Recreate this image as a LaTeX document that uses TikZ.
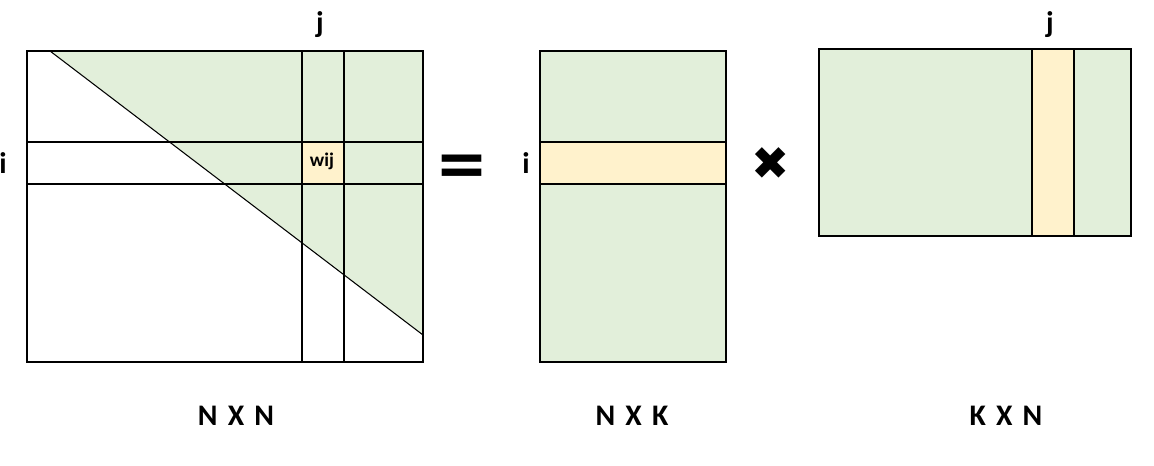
\documentclass[tikz,border=0pt]{standalone}
\usepackage{fontspec}
\setmainfont{Carlito}
\newfontfamily\symfont{DejaVu Sans}
\usetikzlibrary{positioning}
\definecolor{cellgreen}{HTML}{E2EFDA}
\definecolor{cellyellow}{HTML}{FFF2CC}
\newcommand{\dimgap}{\hspace{0.34em}}

\begin{document}
\begin{tikzpicture}[
  x=0.02cm, y=-0.02cm,
  every node/.style={inner sep=0pt, font=\bfseries\fontsize{17}{20}\selectfont},
  idx/.style={font=\bfseries\fontsize{17}{20}\selectfont},
  small_label/.style={font=\bfseries\fontsize{11}{13}\selectfont},
  op/.style={font=\symfont\bfseries\fontsize{36}{40}\selectfont},
  thin_line/.style={line width=0.6pt},
  thick_border/.style={line width=1.4pt}
]
\useasboundingbox (0,0) rectangle (1154,466);

% Result matrix (N x N)
\coordinate (resTL) at (27,51);
\coordinate (resBR) at (423,362);
\fill[cellgreen] (50,51) -- (423,51) -- (423,335) -- cycle;
\fill[white] (302,335) rectangle (344,362);
\fill[cellyellow] (302,142) rectangle (344,184);
\draw[thin_line] (50,51) -- (423,335);
\draw[thin_line] (302,51) -- (302,362);
\draw[thin_line] (344,51) -- (344,362);
\draw[thin_line] (27,142) -- (423,142);
\draw[thin_line] (27,184) -- (423,184);
\draw[thick_border] (resTL) rectangle (resBR);
\node[small_label] (wij) at (322,161) {wij};
\node[idx] (resj) at (320,25) {j};
\node[idx] (resi) at (3,163) {i};
\node (resdim) at (236,416) {N\dimgap X\dimgap N};

% Equals sign
\node[op] (equals) at (462,170) {=};

% Left factor (N x K)
\coordinate (leftTL) at (540,51);
\coordinate (leftBR) at (726,362);
\fill[cellgreen] (leftTL) rectangle (leftBR);
\fill[cellyellow] (540,142) rectangle (726,184);
\draw[thin_line] (540,142) -- (726,142);
\draw[thin_line] (540,184) -- (726,184);
\draw[thin_line] (leftTL) rectangle (leftBR);
\node[idx] (lefti) at (526,163) {i};
\node (leftdim) at (632,416) {N\dimgap X\dimgap K};

% Times sign
\node[op, font=\symfont\fontsize{26}{30}\selectfont] (times) at (771,164) {✖};

% Right factor (K x N)
\coordinate (rightTL) at (819,49);
\coordinate (rightBR) at (1131,236);
\fill[cellgreen] (rightTL) rectangle (rightBR);
\fill[cellyellow] (1032,49) rectangle (1074,236);
\draw[thin_line] (1032,49) -- (1032,236);
\draw[thin_line] (1074,49) -- (1074,236);
\draw[thin_line] (rightTL) rectangle (rightBR);
\node[idx] (rightj) at (1050,25) {j};
\node (rightdim) at (1006,416) {K\dimgap X\dimgap N};

\end{tikzpicture}
\end{document}
